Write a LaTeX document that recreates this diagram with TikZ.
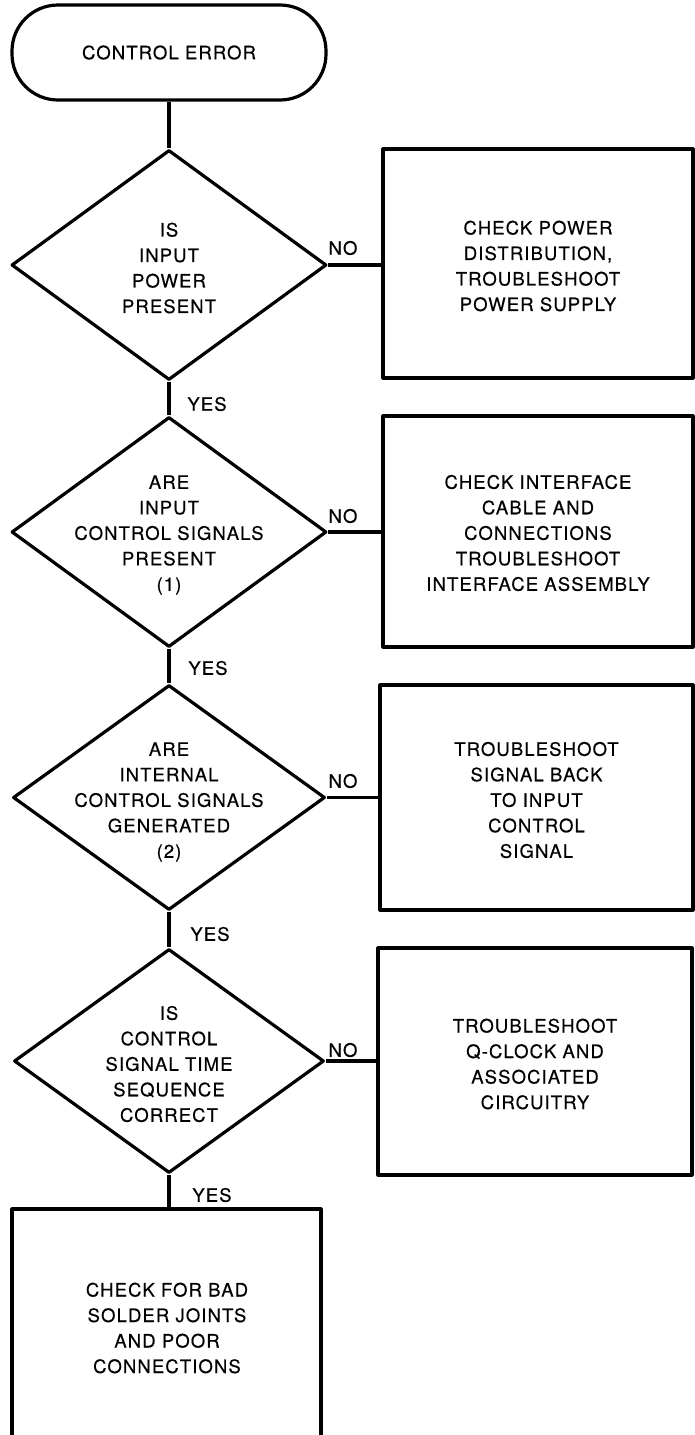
\documentclass[tikz,border=0pt]{standalone}
\usepackage{fontspec}
\setmainfont[LetterSpace=6,FakeBold=0.4]{TeX Gyre Heros}
\usetikzlibrary{shapes.geometric}
\begin{document}
\begin{tikzpicture}[x=1pt,y=-1pt,
  line width=3.2pt, line join=round,
  txt/.style={font=\fontsize{18.5}{25.5}\selectfont, align=center, inner sep=0pt},
  lbl/.style={font=\fontsize{18.5}{22}\selectfont, inner sep=0pt},
  dia/.style={draw, shape=diamond, inner sep=0pt},
  actbox/.style={draw, rectangle, inner sep=0pt},
  startbox/.style={draw, rectangle, rounded corners=46pt, inner sep=0pt}]
\useasboundingbox (0,0) rectangle (695,1435);
\clip (0,0) rectangle (695,1435);

% start
\node[startbox, minimum width=314pt, minimum height=95pt] (s) at (169,52.5) {};
\node[txt] (st) at (s) {CONTROL ERROR};

% decision 1
\node[dia, minimum width=315pt, minimum height=230pt] (d1) at (169,265) {};
\node[txt] (d1t) at (169,268) {IS\\INPUT\\POWER\\PRESENT};
\node[actbox, minimum width=310pt, minimum height=229pt] (b1) at (538,263.5) {};
\node[txt] (b1t) at (538,266) {CHECK POWER\\DISTRIBUTION,\\TROUBLESHOOT\\POWER SUPPLY};

% decision 2
\node[dia, minimum width=315pt, minimum height=230pt] (d2) at (169,532) {};
\node[txt] (d2t) at (169,535) {ARE\\INPUT\\CONTROL SIGNALS\\PRESENT\\(1)};
\node[actbox, minimum width=310pt, minimum height=231pt] (b2) at (538,531.5) {};
\node[txt] (b2t) at (538,533) {CHECK INTERFACE\\CABLE AND\\CONNECTIONS\\TROUBLESHOOT\\INTERFACE ASSEMBLY};

% decision 3
\node[dia, minimum width=312pt, minimum height=225pt] (d3) at (169,797.5) {};
\node[txt] (d3t) at (169,802) {ARE\\INTERNAL\\CONTROL SIGNALS\\GENERATED\\(2)};
\node[actbox, minimum width=313pt, minimum height=225pt] (b3) at (536.5,797.5) {};
\node[txt] (b3t) at (536.5,800) {TROUBLESHOOT\\SIGNAL BACK\\TO INPUT\\CONTROL\\SIGNAL};

% decision 4
\node[dia, minimum width=310pt, minimum height=224pt] (d4) at (169,1061) {};
\node[txt] (d4t) at (169,1064) {IS\\CONTROL\\SIGNAL TIME\\SEQUENCE\\CORRECT};
\node[actbox, minimum width=314pt, minimum height=227pt] (b4) at (535,1061.5) {};
\node[txt] (b4t) at (535,1064) {TROUBLESHOOT\\Q-CLOCK AND\\ASSOCIATED\\CIRCUITRY};

% final box (bottom edge beyond the page)
\node[actbox, minimum width=309pt, minimum height=260pt] (f) at (166.5,1339) {};
\node[txt] (ft) at (167,1328) {CHECK FOR BAD\\SOLDER JOINTS\\AND POOR\\CONNECTIONS};

% connectors
\draw (s.south) -- (d1.north);
\draw (d1.south) -- (d2.north);
\draw (d2.south) -- (d3.north);
\draw (d3.south) -- (d4.north);
\draw (d4.south) -- (d4.south |- f.north);
\draw (d1.east) -- (d1.east -| b1.west);
\draw (d2.east) -- (d2.east -| b2.west);
\draw (d3.east) -- (d3.east -| b3.west);
\draw (d4.east) -- (d4.east -| b4.west);

% labels
\node[lbl] (n1) at (343,248) {NO};
\node[lbl] (n2) at (343,516) {NO};
\node[lbl] (n3) at (343,781) {NO};
\node[lbl] (n4) at (343,1050) {NO};
\node[lbl] (y1) at (207,404) {YES};
\node[lbl] (y2) at (208,668) {YES};
\node[lbl] (y3) at (210,934) {YES};
\node[lbl] (y4) at (212,1195) {YES};
\end{tikzpicture}
\end{document}
